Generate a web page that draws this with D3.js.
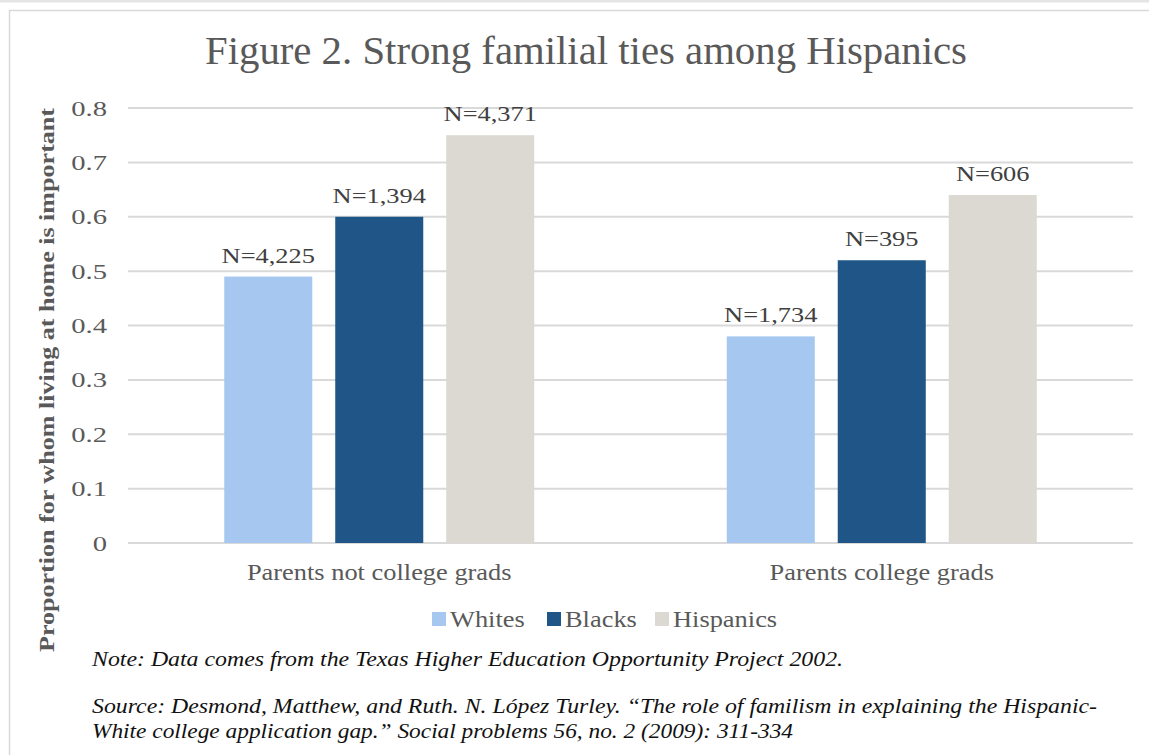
<!doctype html>
<html>
<head>
<meta charset="utf-8">
<style>
  body { margin: 0; background: #fff; }
  svg text { font-family: "Liberation Serif", "DejaVu Serif", serif; }
</style>
<script src="https://d3js.org/d3.v7.min.js"></script>
</head>
<body>
<svg width="1149" height="755"></svg>
<script>
// data
var categories = ["Parents not college grads", "Parents college grads"];
var groups = ["Whites", "Blacks", "Hispanics"];
var whites = [0.49, 0.38];
var blacks = [0.60, 0.52];
var hispanics = [0.75, 0.64];
var whitesN = ["N=4,225", "N=1,734"];
var blacksN = ["N=1,394", "N=395"];
var hispanicsN = ["N=4,371", "N=606"];
var yTicks = [0, 0.1, 0.2, 0.3, 0.4, 0.5, 0.6, 0.7, 0.8];
var colors = ["#a6c8f0", "#1f5587", "#dcd9d2"];

var svg = d3.select("svg");

// Georgia is wider than Liberation Serif, so widen texts a bit
function widen(sel, f) {
    sel.each(function() {
        var w = this.getComputedTextLength();
        d3.select(this).attr("textLength", w * f).attr("lengthAdjust", "spacingAndGlyphs");
    });
}

// outer frame
svg.append("rect").attr("x", 0).attr("y", 0).attr("width", 1149).attr("height", 2.5).attr("fill", "#e4e4e4");
svg.append("path")
   .attr("d", "M9.5,755 V10.5 H1149")
   .attr("fill", "none").attr("stroke", "#d9d9d9").attr("stroke-width", 1.5);

var plotL = 128, plotR = 1133, plotT = 108, plotB = 543;

var x0 = d3.scaleBand().domain(categories).range([plotL, plotR]);
var x1 = d3.scaleBand().domain(groups).range([0, 310]).paddingInner(0.207);
var y = d3.scaleLinear().domain([0, 0.8]).range([plotB, plotT]);

// gridlines
svg.append("g").selectAll("line").data(yTicks).enter().append("line")
   .attr("x1", plotL).attr("x2", plotR)
   .attr("y1", function(d) { return y(d); }).attr("y2", function(d) { return y(d); })
   .attr("stroke", "#d9d9d9").attr("stroke-width", 2);

// y axis (labels only)
var yAxis = svg.append("g")
   .attr("transform", "translate(" + (plotL - 12) + ",0)")
   .call(d3.axisLeft(y).tickValues(yTicks).tickSize(0).tickPadding(9)
         .tickFormat(function(d) { return d === 0 ? "0" : d3.format(".1f")(d); }));
yAxis.select(".domain").remove();
yAxis.selectAll("text").attr("font-size", 22).attr("fill", "#595959")
     .style("font-family", "'Liberation Serif', serif");
widen(yAxis.selectAll("text"), 1.3);

// bars
var rows = categories.map(function(c, i) {
    return [
        { cat: c, g: "Whites", v: whites[i], n: whitesN[i] },
        { cat: c, g: "Blacks", v: blacks[i], n: blacksN[i] },
        { cat: c, g: "Hispanics", v: hispanics[i], n: hispanicsN[i] }
    ];
});

var cat = svg.selectAll(".cat").data(rows).enter().append("g")
   .attr("class", "cat")
   .attr("transform", function(d, i) {
       return "translate(" + (x0(categories[i]) + x0.bandwidth() / 2 - 155) + ",0)";
   });

cat.selectAll("rect").data(function(d) { return d; }).enter().append("rect")
   .attr("x", function(d) { return x1(d.g); })
   .attr("y", function(d) { return y(d.v); })
   .attr("width", x1.bandwidth())
   .attr("height", function(d) { return plotB - y(d.v); })
   .attr("fill", function(d, i) { return colors[i]; });

var nLab = cat.selectAll("text").data(function(d) { return d; }).enter().append("text")
   .attr("x", function(d) { return x1(d.g) + x1.bandwidth() / 2; })
   .attr("y", function(d) { return y(d.v) - 14; })
   .attr("text-anchor", "middle")
   .attr("font-size", 22).attr("fill", "#404040")
   .text(function(d) { return d.n; });
widen(nLab, 1.2);

// category labels
var catLab = svg.append("g").selectAll("text").data(categories).enter().append("text")
   .attr("x", function(d) { return x0(d) + x0.bandwidth() / 2; })
   .attr("y", 580)
   .attr("text-anchor", "middle")
   .attr("font-size", 24).attr("fill", "#595959")
   .text(function(d) { return d; });
widen(catLab, 1.1);

// title
svg.append("text")
   .attr("x", 586).attr("y", 64)
   .attr("text-anchor", "middle")
   .attr("font-size", 40).attr("fill", "#595959")
   .attr("textLength", 762).attr("lengthAdjust", "spacingAndGlyphs")
   .text("Figure 2. Strong familial ties among Hispanics");

// y label
svg.append("text")
   .attr("transform", "translate(54,380) rotate(-90)")
   .attr("text-anchor", "middle")
   .attr("font-size", 21).attr("font-weight", "bold").attr("fill", "#595959")
   .attr("textLength", 544).attr("lengthAdjust", "spacingAndGlyphs")
   .text("Proportion for whom living at home is important");

// legend
var legendX = [432, 547, 655];
var legend = svg.append("g").selectAll("g").data(groups).enter().append("g")
   .attr("transform", function(d, i) { return "translate(" + legendX[i] + ",612)"; });
legend.append("rect").attr("width", 14).attr("height", 14)
   .attr("fill", function(d, i) { return colors[i]; });
var legText = legend.append("text").attr("x", 18).attr("y", 15)
   .attr("font-size", 24).attr("fill", "#595959")
   .text(function(d) { return d; });
widen(legText, 1.1);

// notes
var notes = [
    { t: "Note: Data comes from the Texas Higher Education Opportunity Project 2002.", y: 666, w: 751 },
    { t: "Source: Desmond, Matthew, and Ruth. N. L\u00f3pez Turley. \u201cThe role of familism in explaining the Hispanic-", y: 713, w: 1005 },
    { t: "White college application gap.\u201d Social problems 56, no. 2 (2009): 311-334", y: 738, w: 701 }
];
svg.append("g").selectAll("text").data(notes).enter().append("text")
   .attr("x", 92).attr("y", function(d) { return d.y; })
   .attr("font-size", 20).attr("font-style", "italic").attr("fill", "#111")
   .attr("textLength", function(d) { return d.w; })
   .attr("lengthAdjust", "spacingAndGlyphs")
   .text(function(d) { return d.t; });
</script>
</body>
</html>
